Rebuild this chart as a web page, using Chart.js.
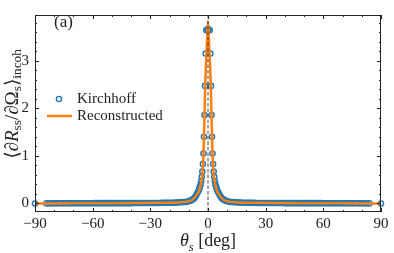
<!DOCTYPE html>
<html>
<head>
<meta charset="utf-8">
<script src="https://cdn.jsdelivr.net/npm/chart.js@4"></script>
<style>
  html, body { margin: 0; padding: 0; background: #fff; }
  #wrap { width: 394px; height: 253px; }
</style>
</head>
<body>
<div id="wrap"><canvas id="chart" width="394" height="253"></canvas></div>
<script>
// Kirchhoff samples (deg, value)
const kirchTheta = [
  -90, -84, -82.5, -81, -79.7, -78.5, -77.3, -76.2, -75.1, -74,
  -73, -72, -71, -70, -69, -68, -67, -66, -65, -64, -63, -62, -61, -60,
  -59, -58, -57, -56, -55, -54, -53, -52, -51, -50, -49, -48, -47, -46, -45, -44, -43, -42, -41, -40,
  -39, -38, -37, -36, -35, -34, -33, -32, -31, -30, -29, -28, -27, -26, -25,
  -24, -23, -22, -21, -20, -19, -18,
  -17, -16, -15, -14, -13,
  -12, -11, -10, -9.2, -8.5, -7.8, -7.2, -6.6, -6.0, -5.5, -5.0, -4.6, -4.2,
  -3.85, -3.55, -3.25, -2.95, -2.65, -2.35, -2.1, -1.85, -1.55, -1.25, -0.9, -0.3,
  0.3, 0.9, 1.25, 1.55, 1.85, 2.1, 2.35, 2.65, 2.95, 3.25, 3.55, 3.85,
  4.2, 4.6, 5.0, 5.5, 6.0, 6.6, 7.2, 7.8, 8.5, 9.2, 10, 11, 12,
  13, 14, 15, 16, 17,
  18, 19, 20, 21, 22, 23, 24,
  25, 26, 27, 28, 29, 30, 31, 32, 33, 34, 35, 36, 37, 38, 39,
  40, 41, 42, 43, 44, 45, 46, 47, 48, 49, 50, 51, 52, 53, 54, 55, 56, 57, 58, 59,
  60, 61, 62, 63, 64, 65, 66, 67, 68, 69, 70, 71, 72, 73,
  74, 75.1, 76.2, 77.3, 78.5, 79.7, 81, 82.5, 84, 90
];
const kirchValue = [
  0, 0.001, 0.001, 0.002, 0.002, 0.002, 0.003, 0.003, 0.003, 0.004,
  0.004, 0.004, 0.004, 0.004, 0.004, 0.004, 0.004, 0.004, 0.004, 0.004, 0.004, 0.004, 0.004, 0.004,
  0.006, 0.006, 0.006, 0.006, 0.006, 0.006, 0.006, 0.006, 0.006, 0.006, 0.006, 0.006, 0.006, 0.006, 0.006, 0.006, 0.006, 0.006, 0.006, 0.006,
  0.01, 0.01, 0.01, 0.01, 0.01, 0.01, 0.01, 0.01, 0.01, 0.01, 0.01, 0.01, 0.01, 0.01, 0.01,
  0.015, 0.015, 0.015, 0.015, 0.015, 0.015, 0.015,
  0.02, 0.021, 0.023, 0.025, 0.028,
  0.03, 0.035, 0.045, 0.055, 0.07, 0.09, 0.11, 0.14, 0.18, 0.22, 0.26, 0.30, 0.35,
  0.40, 0.47, 0.56, 0.67, 0.83, 1.05, 1.40, 1.86, 2.47, 3.15, 3.64, 3.66,
  3.66, 3.64, 3.15, 2.47, 1.86, 1.40, 1.05, 0.83, 0.67, 0.56, 0.47, 0.40,
  0.35, 0.30, 0.26, 0.22, 0.18, 0.14, 0.11, 0.09, 0.07, 0.055, 0.045, 0.035, 0.03,
  0.028, 0.025, 0.023, 0.021, 0.02,
  0.015, 0.015, 0.015, 0.015, 0.015, 0.015, 0.015,
  0.01, 0.01, 0.01, 0.01, 0.01, 0.01, 0.01, 0.01, 0.01, 0.01, 0.01, 0.01, 0.01, 0.01, 0.01,
  0.006, 0.006, 0.006, 0.006, 0.006, 0.006, 0.006, 0.006, 0.006, 0.006, 0.006, 0.006, 0.006, 0.006, 0.006, 0.006, 0.006, 0.006, 0.006, 0.006,
  0.004, 0.004, 0.004, 0.004, 0.004, 0.004, 0.004, 0.004, 0.004, 0.004, 0.004, 0.004, 0.004, 0.004,
  0.004, 0.003, 0.003, 0.003, 0.002, 0.002, 0.002, 0.001, 0.001, 0
];

// Reconstructed curve
const reconTheta = [
  -90, -70, -50, -35, -25, -20, -16, -13, -11, -9.5, -8, -6.8, -5.5, -4.5, -3.8, -3.4, -3.0, -2.7,
  -2.4, -2.1, -1.8, -1.5, -1.2, -0.85, -0.4, 0,
  0.4, 0.85, 1.2, 1.5, 1.8, 2.1, 2.4,
  2.7, 3.0, 3.4, 3.8, 4.5, 5.5, 6.8, 8, 9.5, 11, 13, 16, 20, 25, 35, 50, 70, 90
];
const reconValue = [
  0, 0.003, 0.005, 0.008, 0.012, 0.016, 0.022, 0.03, 0.038, 0.05, 0.08, 0.13, 0.2, 0.28, 0.37, 0.46, 0.6, 0.77,
  1.0, 1.38, 1.9, 2.42, 2.78, 3.12, 3.5, 3.82,
  3.5, 3.12, 2.78, 2.42, 1.9, 1.38, 1.0,
  0.77, 0.6, 0.46, 0.37, 0.28, 0.2, 0.13, 0.08, 0.05, 0.038, 0.03, 0.022, 0.016, 0.012, 0.008, 0.005, 0.003, 0
];

// Axis ticks
const xTickVals = [-90, -60, -30, 0, 30, 60, 90];
const xMinorVals = [-80, -70, -50, -40, -20, -10, 10, 20, 40, 50, 70, 80];
const yTickVals = [0, 1, 2, 3];
const yMinorVals = [0.2, 0.4, 0.6, 0.8, 1.2, 1.4, 1.6, 1.8, 2.2, 2.4, 2.6, 2.8, 3.2, 3.4, 3.6, 3.8];

const SERIF = '"Liberation Serif", "DejaVu Serif", serif';
const BLUE = '#1f77b4';
const ORANGE = '#ff7f0e';

// frame, inward ticks and the dashed line at 0
const framePlugin = {
    id: 'frame',
    afterDatasetsDraw(chart) {
        const { ctx, chartArea: a, scales } = chart;
        const xs = scales.x, ys = scales.y;
        ctx.save();
        // dashed line at theta = 0
        ctx.strokeStyle = '#333';
        ctx.lineWidth = 0.9;
        ctx.setLineDash([3.5, 2]);
        ctx.beginPath();
        const x0 = xs.getPixelForValue(0);
        ctx.moveTo(x0, a.top);
        ctx.lineTo(x0, a.bottom);
        ctx.stroke();
        ctx.setLineDash([]);

        ctx.strokeStyle = '#222';
        ctx.lineWidth = 1;
        ctx.strokeRect(a.left + 0.5, a.top + 0.5, a.right - a.left - 1, a.bottom - a.top - 1);

        ctx.beginPath();
        const tickX = (v, len) => {
            const p = Math.round(xs.getPixelForValue(v)) + 0.5;
            ctx.moveTo(p, a.bottom); ctx.lineTo(p, a.bottom - len);
            ctx.moveTo(p, a.top); ctx.lineTo(p, a.top + len);
        };
        const tickY = (v, len) => {
            const p = Math.round(ys.getPixelForValue(v)) + 0.5;
            ctx.moveTo(a.left, p); ctx.lineTo(a.left + len, p);
            ctx.moveTo(a.right, p); ctx.lineTo(a.right - len, p);
        };
        xTickVals.forEach(v => tickX(v, 4));
        xMinorVals.forEach(v => tickX(v, 2));
        yTickVals.forEach(v => tickY(v, 4));
        yMinorVals.forEach(v => tickY(v, 2));
        ctx.stroke();
        ctx.restore();
    }
};

// draw a run of text pieces (italic / subscript) starting at x,y
function drawPieces(ctx, pieces, size, x, y, align, drop) {
    const fontFor = p => (p.it ? 'italic ' : '') + (p.sub ? size * 0.7 : size) + 'px ' + SERIF;
    let total = 0;
    pieces.forEach(p => { ctx.font = fontFor(p); total += ctx.measureText(p.t).width; });
    let cx = align === 'center' ? x - total / 2 : x;
    ctx.textBaseline = 'alphabetic';
    ctx.textAlign = 'left';
    pieces.forEach(p => {
        ctx.font = fontFor(p);
        ctx.fillText(p.t, cx, y + (p.sub ? size * drop : 0));
        cx += ctx.measureText(p.t).width;
    });
}

const labelPlugin = {
    id: 'labels',
    afterDraw(chart) {
        const { ctx, chartArea: a } = chart;
        ctx.save();
        ctx.fillStyle = '#222';

        // y axis title
        ctx.save();
        ctx.translate(18, 104);
        ctx.rotate(-Math.PI / 2);
        drawPieces(ctx, [
            { t: '⟨∂' }, { t: 'R', it: true }, { t: 'ss', sub: true },
            { t: '/∂Ω' }, { t: 's', sub: true }, { t: '⟩' }, { t: 'incoh', sub: true }
        ], 19, 0, 0, 'center', 0.17);
        ctx.restore();

        // x axis title
        drawPieces(ctx, [
            { t: 'θ', it: true }, { t: 's', it: true, sub: true }, { t: ' [deg]' }
        ], 18, (a.left + a.right) / 2, 246, 'center', 0.25);

        // panel tag
        ctx.font = '17px ' + SERIF;
        ctx.textBaseline = 'middle';
        ctx.textAlign = 'left';
        ctx.fillText('(a)', 54, 23);

        // legend
        const ds = chart.data.datasets;
        ctx.font = '15px ' + SERIF;
        ctx.strokeStyle = BLUE;
        ctx.lineWidth = 1.4;
        ctx.beginPath();
        ctx.arc(59, 99, 2.6, 0, Math.PI * 2);
        ctx.stroke();
        ctx.fillText(ds[1].label, 77, 99);
        ctx.strokeStyle = ORANGE;
        ctx.lineWidth = 2.5;
        ctx.beginPath();
        ctx.moveTo(47, 116); ctx.lineTo(72, 116);
        ctx.stroke();
        ctx.fillText(ds[0].label, 77, 116);
        ctx.restore();
    }
};

const minusFmt = v => String(v).replace('-', '\u2212');

new Chart(document.getElementById('chart'), {
    type: 'scatter',
    data: {
        datasets: [
            {
                label: 'Reconstructed',
                data: reconTheta.map((t, i) => ({ x: t, y: reconValue[i] })),
                showLine: true,
                borderColor: ORANGE,
                borderWidth: 2.5,
                pointRadius: 0,
                cubicInterpolationMode: 'monotone',
                order: 0
            },
            {
                label: 'Kirchhoff',
                data: kirchTheta.map((t, i) => ({ x: t, y: kirchValue[i] })),
                showLine: false,
                pointStyle: 'circle',
                pointRadius: 2.6,
                borderWidth: 1.4,
                borderColor: BLUE,
                backgroundColor: 'rgba(0,0,0,0)',
                clip: 6,
                order: 1
            }
        ]
    },
    options: {
        responsive: false,
        animation: false,
        layout: { padding: { top: 5, right: 13, left: 0, bottom: 0 } },
        plugins: { legend: { display: false }, tooltip: { enabled: false } },
        scales: {
            x: {
                type: 'linear',
                min: -90,
                max: 90,
                grid: { display: false, drawTicks: false },
                border: { display: false },
                afterBuildTicks: s => { s.ticks = xTickVals.map(v => ({ value: v })); },
                afterFit: s => { s.height = 41; },
                ticks: {
                    padding: 3,
                    maxRotation: 0,
                    color: '#222',
                    font: { family: SERIF, size: 15 },
                    callback: v => minusFmt(v)
                }
            },
            y: {
                type: 'linear',
                min: -0.18,
                max: 3.96,
                grid: { display: false, drawTicks: false },
                border: { display: false },
                afterBuildTicks: s => { s.ticks = yTickVals.map(v => ({ value: v })); },
                afterFit: s => { s.width = 35; },
                ticks: {
                    padding: 6,
                    color: '#222',
                    font: { family: SERIF, size: 15 },
                    callback: v => minusFmt(v)
                }
            }
        }
    },
    plugins: [framePlugin, labelPlugin]
});
</script>
</body>
</html>
